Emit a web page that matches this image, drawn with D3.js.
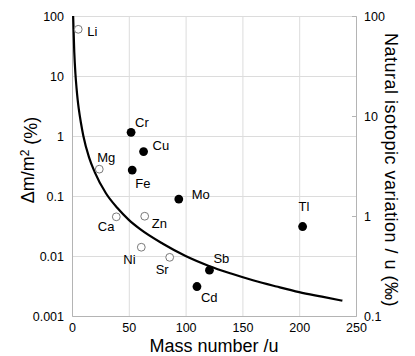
<!DOCTYPE html>
<html>
<head>
<meta charset="utf-8">
<script src="https://cdnjs.cloudflare.com/ajax/libs/d3/7.8.5/d3.min.js"></script>
<style>
	body { margin: 0; background: #fff; }
	svg { font-family: "Liberation Sans", Arial, sans-serif; }
	.grid line { stroke: #dcdcdc; stroke-width: 1; }
	.grid path { display: none; }
	.axis path, .axis line { stroke: #b4b4b4; }
	.axis text { font-size: 12.5px; fill: #000; }
	.label { font-size: 13px; fill: #000; }
</style>
</head>
<body>
<div id="chart"></div>
<script>
// elements
let elements	= ["Li", "Cr", "Cu", "Fe", "Mg", "Mo", "Ca", "Zn", "Ni", "Sr", "Sb", "Cd", "Tl"];
let masses		= [5.5, 52, 63, 53, 24, 94, 39, 64, 61, 86, 121, 110, 203];
let deltas		= [60, 1.15, 0.55, 0.27, 0.28, 0.089, 0.045, 0.046, 0.014, 0.0095, 0.0058, 0.0031, 0.031];
let filled		= [false, true, true, true, false, true, false, false, false, false, true, true, true];

// the black curve
let curveMass	= [1, 2, 3, 4, 5, 6, 8, 10, 15, 20, 30, 40, 50, 60, 80, 100, 120, 140, 160, 180, 200, 220, 238];
let curveDelta	= [100, 25, 11, 6.3, 4, 2.8, 1.6, 1.0, 0.44, 0.25, 0.11, 0.063, 0.04, 0.028, 0.016, 0.01, 0.0069, 0.0051, 0.0039, 0.0031, 0.0025, 0.0021, 0.0018];

let xTicks		= [0, 50, 100, 150, 200, 250];
let yTicks		= [100, 10, 1, 0.1, 0.01, 0.001];
let y2Ticks		= [100, 10, 1, 0.1];

// label placement next to each dot (dx, dy)
let offsets		= {
	Li: [9, 2.5], Cr: [4, -10], Cu: [9, -6], Fe: [3, 13], Mg: [-2, -12], Mo: [13, -5],
	Ca: [-18.5, 10], Zn: [7, 7], Ni: [-18, 12.5], Sr: [-14, 12], Sb: [4, -12], Cd: [4, 11], Tl: [-4, -20]
};

let margin		= { top: 16, right: 59, bottom: 40, left: 72 };
let width		= 415 - margin.left - margin.right;
let height		= 356 - margin.top - margin.bottom;

let data		= elements.map((o, i) => ({ name: o, mass: masses[i], value: deltas[i], filled: filled[i] }));
let curveData	= curveMass.map((o, i) => ({ mass: o, value: curveDelta[i] }));

let x			= d3.scaleLinear().range([0, width]).domain([0, 250]);
let y			= d3.scaleLog().range([height, 0]).domain([0.001, 100]);
let y2			= d3.scaleLog().range([height, 0]).domain([0.1, 100]);

let fmt			= (d) => (d >= 1 ? d3.format("d")(d) : String(d));

let svg = d3.select("#chart").append("svg")
	.attr("width", 415)
	.attr("height", 356)
	.append("g")
	.attr("transform", "translate(" + margin.left + "," + margin.top + ")");

svg.append("g")
	.attr("class", "grid")
	.call(d3.axisLeft(y).tickValues(yTicks).tickSize(-width).tickFormat(""));

svg.append("g")
	.attr("class", "grid")
	.attr("transform", "translate(0," + height + ")")
	.call(d3.axisBottom(x).tickValues(xTicks).tickSize(-height).tickFormat(""));

svg.append("g")
	.attr("class", "y axis")
	.call(d3.axisLeft(y).tickValues(yTicks).tickSize(0).tickPadding(8).tickFormat(fmt));

svg.append("g")
	.attr("class", "x axis")
	.attr("transform", "translate(0," + height + ")")
	.call(d3.axisBottom(x).tickValues(xTicks).tickSize(0).tickPadding(7));

svg.append("g")
	.attr("class", "y2 axis")
	.attr("transform", "translate(" + width + ",0)")
	.call(d3.axisRight(y2).tickValues(y2Ticks).tickSize(-4).tickPadding(8).tickFormat(fmt));

let line = d3.line()
	.x((o) => x(o.mass))
	.y((o) => y(o.value))
	.curve(d3.curveMonotoneX);

svg.append("path")
	.datum(curveData)
	.attr("fill", "none")
	.attr("stroke", "#000")
	.attr("stroke-width", 2.2)
	.attr("d", line);

svg.selectAll(".dot")
	.data(data)
	.enter().append("circle")
		.attr("class", "dot")
		.attr("cx", (o) => x(o.mass))
		.attr("cy", (o) => y(o.value))
		.attr("r", (o) => (o.filled ? 4.4 : 3.9))
		.attr("fill", (o) => (o.filled ? "#000" : "#fff"))
		.attr("stroke", (o) => (o.filled ? "#000" : "#7a7a7a"))
		.attr("stroke-width", (o) => (o.filled ? 0 : 1));

svg.selectAll(".label")
	.data(data)
	.enter().append("text")
		.attr("class", "label")
		.attr("x", (o) => x(o.mass) + offsets[o.name][0])
		.attr("y", (o) => y(o.value) + offsets[o.name][1])
		.attr("dy", "0.36em")
		.text((o) => o.name);

// axis titles
svg.append("text")
	.attr("x", width / 2)
	.attr("y", height + 36)
	.attr("text-anchor", "middle")
	.style("font-size", "18px")
	.text("Mass number /u");

let yTitle = svg.append("text")
	.attr("transform", "translate(" + (28 - margin.left) + "," + (160 - margin.top) + ") rotate(-90)")
	.attr("text-anchor", "middle")
	.attr("dy", "0.36em")
	.style("font-size", "18px");
yTitle.append("tspan").text("\u0394m/m");
yTitle.append("tspan").attr("dy", "-0.45em").style("font-size", "12px").text("2");
yTitle.append("tspan").attr("dy", "0.45em").text(" (%)");

svg.append("text")
	.attr("transform", "translate(" + (391 - margin.left) + "," + (170 - margin.top) + ") rotate(90)")
	.attr("text-anchor", "middle")
	.attr("dy", "0.36em")
	.style("font-size", "18px")
	.style("letter-spacing", "0.5px")
	.text("Natural isotopic variation / u (\u2030)");
</script>
</body>
</html>
